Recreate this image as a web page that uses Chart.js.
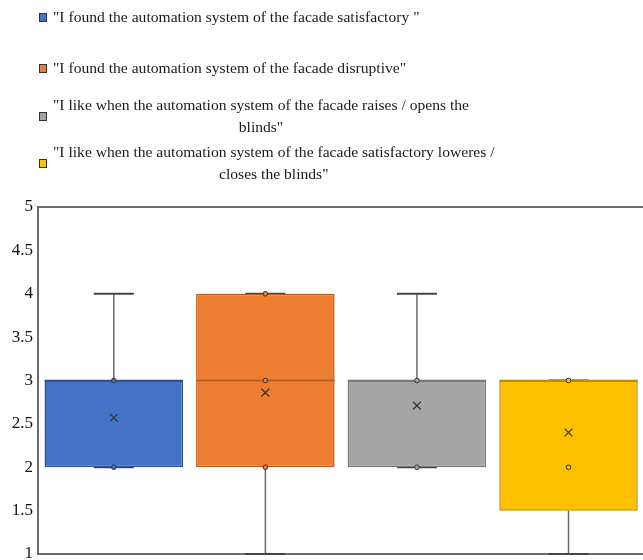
<!DOCTYPE html>
<html>
<head>
<meta charset="utf-8">
<script src="https://cdn.jsdelivr.net/npm/chart.js@4.4.0/dist/chart.umd.min.js"></script>
<style>
  html, body { margin: 0; padding: 0; width: 643px; height: 560px; overflow: hidden; background: #fff; }
  #wrap { position: relative; width: 643px; height: 560px; overflow: hidden; }
  #chart { position: absolute; left: 0; top: 0; }
  #legend { position: absolute; left: 39px; top: 0; z-index: 2; font-family: "Liberation Serif", "Times New Roman", serif; font-size: 15.6px; line-height: 22px; color: #1a1a1a; }
  .item { display: flex; align-items: center; }
  .item .box { width: 6px; height: 7px; border: 1px solid #333; margin-right: 6px; flex: none; }
  .item .txt { white-space: pre-line; text-align: center; }
  .item:nth-child(1) { margin-top: 6px; }
  .item:nth-child(2) { margin-top: 29px; }
  .item:nth-child(3) { margin-top: 15px; }
  .item:nth-child(4) { margin-top: 3px; }
</style>
</head>
<body>
<div id="wrap">
  <div id="legend"></div>
  <canvas id="chart"></canvas>
</div>
<script>
// Data
const categories = [
  "\"I found the automation system of the facade satisfactory \"",
  "\"I found the automation system of the facade disruptive\"",
  "\"I like when the automation system of the facade raises / opens the\nblinds\"",
  "\"I like when the automation system of the facade satisfactory loweres /\ncloses the blinds\"",
];
const q1Values = [2, 2, 2, 1.5];
const q3Values = [3, 4, 3, 3];
const medianValues = [3, 3, 3, 3];
const minValues = [2, 1, 2, 1];
const maxValues = [4, 4, 4, 3];
const meanValues = [2.57, 2.86, 2.71, 2.4];
const innerPoints = [[2, 3], [2, 3, 4], [2, 3], [2, 3]];
const yTicks = [1, 1.5, 2, 2.5, 3, 3.5, 4, 4.5, 5];

const fillColors = ["#4472C4", "#ED7D31", "#A5A5A5", "#FFC000"];
const edgeColors = ["#2F528F", "#AE5A21", "#787878", "#BC8C00"];

// Legend (HTML, real text)
const legendBox = document.getElementById("legend");
categories.forEach((label, i) => {
  const item = document.createElement("div");
  item.classList.add("item");
  const sw = document.createElement("span");
  sw.classList.add("box");
  sw.style.background = fillColors[i];
  const txt = document.createElement("span");
  txt.classList.add("txt");
  txt.textContent = label;
  item.appendChild(sw);
  item.appendChild(txt);
  legendBox.appendChild(item);
});

// canvas is a bit bigger than the page so the "1" label and right edge get cut like the original
var canvas = document.getElementById("chart");
canvas.width = 651;
canvas.height = 580;
canvas.style.width = "651px";
canvas.style.height = "580px";

const xKeys = categories.map((c, i) => "c" + i);

// whiskers, caps, medians and the top frame line
const boxExtras = {
  id: "boxExtras",
  beforeDatasetsDraw(chart) {
    const { ctx, scales: { x, y } } = chart;
    ctx.save();
    xKeys.forEach((k, i) => {
      const cx = x.getPixelForValue(i);
      const capHalf = 20;
      ctx.strokeStyle = "#6b6b6b";
      ctx.lineWidth = 1.5;
      ctx.beginPath();
      ctx.moveTo(cx, y.getPixelForValue(q3Values[i]));
      ctx.lineTo(cx, y.getPixelForValue(maxValues[i]));
      ctx.moveTo(cx, y.getPixelForValue(q1Values[i]));
      ctx.lineTo(cx, y.getPixelForValue(minValues[i]));
      ctx.stroke();
      ctx.lineWidth = 2;
      ctx.strokeStyle = "#444";
      ctx.beginPath();
      ctx.moveTo(cx - capHalf, y.getPixelForValue(maxValues[i]));
      ctx.lineTo(cx + capHalf, y.getPixelForValue(maxValues[i]));
      ctx.moveTo(cx - capHalf, y.getPixelForValue(minValues[i]));
      ctx.lineTo(cx + capHalf, y.getPixelForValue(minValues[i]));
      ctx.stroke();
    });
    ctx.restore();
  },
  afterDatasetDraw(chart, args) {
    if (args.index !== 0) return;
    const { ctx, scales: { y } } = chart;
    const meta = chart.getDatasetMeta(0);
    ctx.save();
    ctx.lineWidth = 1.5;
    meta.data.forEach((bar, i) => {
      const my = y.getPixelForValue(medianValues[i]);
      ctx.strokeStyle = edgeColors[i];
      ctx.beginPath();
      ctx.moveTo(bar.x - bar.width / 2, my);
      ctx.lineTo(bar.x + bar.width / 2, my);
      ctx.stroke();
    });
    ctx.restore();
  },
  afterDraw(chart) {
    const { ctx, chartArea } = chart;
    ctx.save();
    ctx.strokeStyle = "#6b6b6b";
    ctx.lineWidth = 2;
    ctx.beginPath();
    ctx.moveTo(chartArea.left, chartArea.top);
    ctx.lineTo(chartArea.right + 10, chartArea.top);
    ctx.stroke();
    ctx.restore();
  },
};

// inner points as {x, y}
const pointData = [];
const pointFill = [];
innerPoints.forEach((vals, i) => {
  vals.forEach((v) => {
    pointData.push({ x: xKeys[i], y: v });
    pointFill.push(fillColors[i]);
  });
});

var ctx = canvas.getContext("2d");
var boxChart = new Chart(ctx, {
  type: "bar",
  data: {
    labels: xKeys,
    datasets: [
      {
        type: "bar",
        data: q1Values.map((v, i) => [v, q3Values[i]]),
        backgroundColor: fillColors,
        borderColor: edgeColors,
        borderWidth: 1.5,
        borderSkipped: false,
        barPercentage: 0.914,
        categoryPercentage: 1,
        order: 3,
      },
      {
        type: "line",
        data: meanValues.map((v, i) => ({ x: xKeys[i], y: v })),
        showLine: false,
        pointStyle: "crossRot",
        pointRadius: 5.5,
        borderColor: "#333",
        borderWidth: 1.2,
        order: 2,
      },
      {
        type: "line",
        data: pointData,
        showLine: false,
        pointStyle: "circle",
        pointRadius: 2.3,
        pointBackgroundColor: pointFill,
        pointBorderColor: "#333",
        pointBorderWidth: 1,
        order: 1,
      },
    ],
  },
  options: {
    responsive: false,
    animation: false,
    events: [],
    layout: { padding: { top: 207, bottom: 26, left: 0, right: 0 } },
    plugins: { legend: { display: false }, tooltip: { enabled: false } },
    scales: {
      x: {
        type: "category",
        offset: true,
        ticks: { display: false },
        grid: { display: false, drawTicks: false },
        border: { display: true, color: "#6b6b6b", width: 2 },
      },
      y: {
        min: 1,
        max: 5,
        afterBuildTicks: (s) => { s.ticks = yTicks.map((v) => ({ value: v })); },
        afterFit: (s) => { s.width = 38; },
        ticks: {
          padding: 5,
          color: "#111",
          callback: (v) => String(v),
          font: { family: "'Liberation Serif', 'Times New Roman', serif", size: 17 },
        },
        grid: { display: false, drawTicks: false, tickLength: 0 },
        border: { display: true, color: "#6b6b6b", width: 2 },
      },
    },
  },
  plugins: [boxExtras],
});
</script>
</body>
</html>
